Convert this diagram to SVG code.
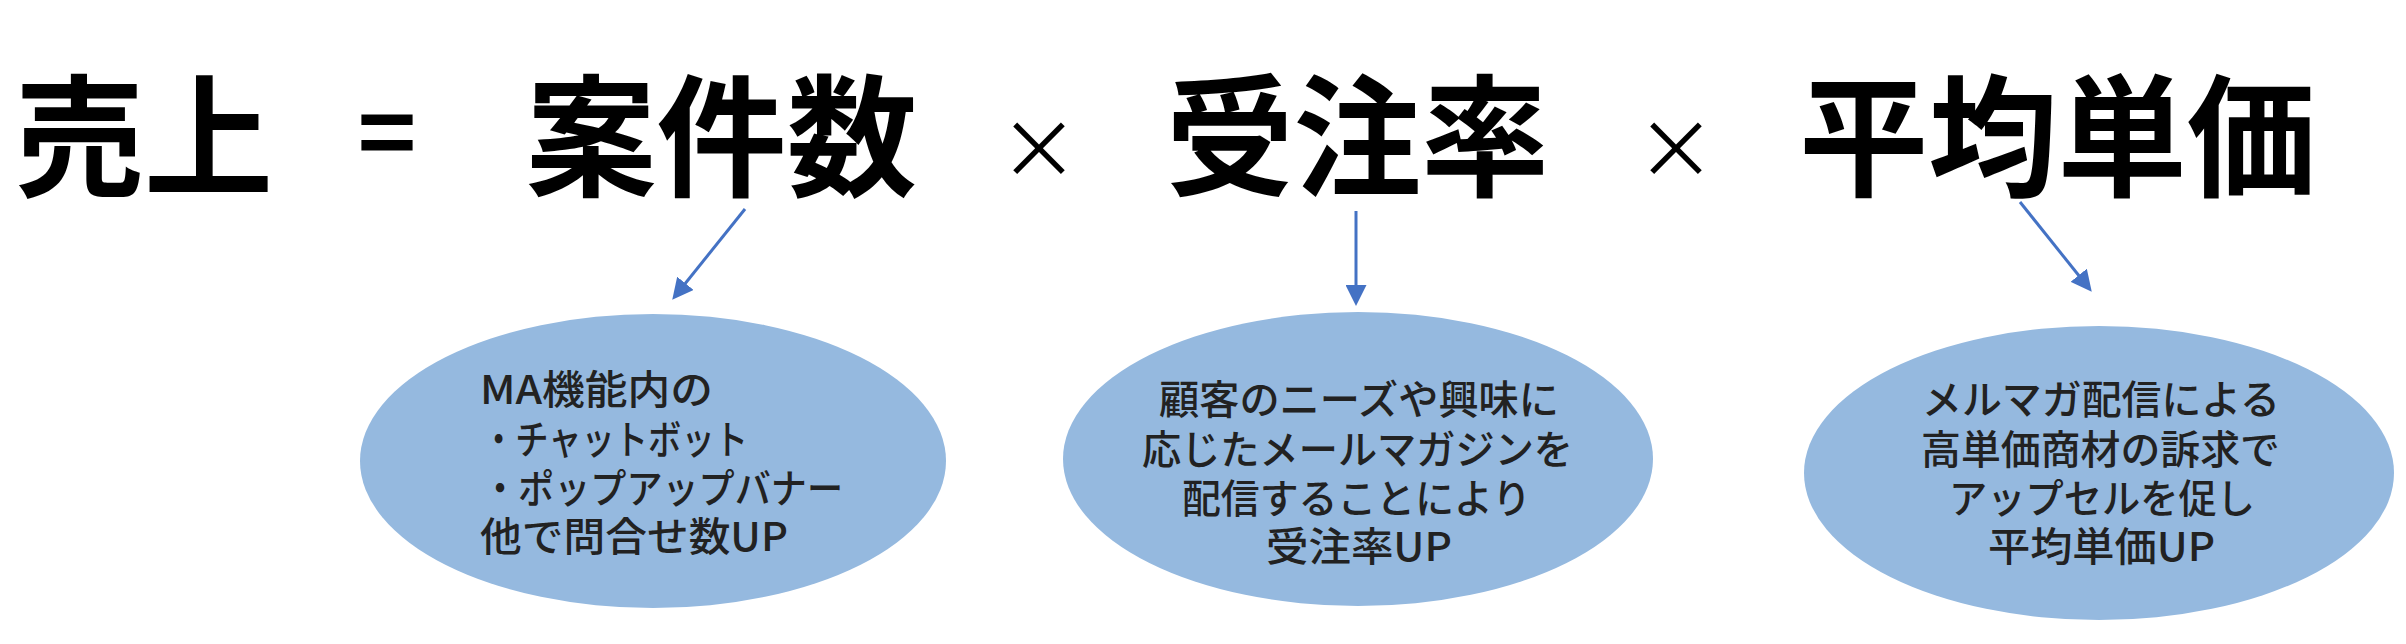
<svg xmlns="http://www.w3.org/2000/svg" width="2406" height="644" viewBox="0 0 2406 644">
<style>
.t{font-family:"Noto Sans CJK JP","Noto Sans",sans-serif;font-weight:700;font-size:132px;fill:#000}
.op{font-family:"Noto Sans CJK JP","Noto Sans",sans-serif;font-size:80px;fill:#000;text-anchor:middle}
.eq{font-family:"Noto Sans CJK JP","Noto Sans",sans-serif;font-weight:700;font-size:100px;fill:#000;text-anchor:middle}
.n{font-family:"Noto Sans CJK JP","Noto Sans",sans-serif;font-weight:500;font-size:40px;fill:#222}
.e{fill:#95B9DF}
.c{stroke:#4472C4;stroke-width:3;fill:none;marker-end:url(#ah)}
</style>
<defs><marker id="ah" markerWidth="7" markerHeight="7" refX="5" refY="3.5" orient="auto" markerUnits="strokeWidth"><path d="M0,0 L7,3.5 L0,7 Z" fill="#4472C4"/></marker></defs>
<rect width="2406" height="644" fill="#fff"/>
<g id="title">
<text class="t" x="15" y="186" textLength="258" lengthAdjust="spacingAndGlyphs">売上</text>
<text class="eq" x="387" y="170">=</text>
<text class="t" x="526" y="186" textLength="391" lengthAdjust="spacingAndGlyphs">案件数</text>
<text class="op" x="1039" y="178">×</text>
<text class="t" x="1166" y="186" textLength="383" lengthAdjust="spacingAndGlyphs">受注率</text>
<text class="op" x="1676" y="178">×</text>
<text class="t" x="1799" y="186" textLength="517" lengthAdjust="spacingAndGlyphs">平均単価</text>
</g>
<g id="connectors">
<line class="c" x1="745" y1="209" x2="676" y2="295"/>
<line class="c" x1="1356" y1="211" x2="1356" y2="300"/>
<line class="c" x1="2020" y1="202" x2="2088" y2="287"/>
</g>
<g id="node1">
<ellipse class="e" cx="653" cy="461" rx="293" ry="147"/>
<text class="n" x="480" y="404" textLength="233" lengthAdjust="spacingAndGlyphs">MA機能内の</text>
<text class="n" x="482" y="454" textLength="266" lengthAdjust="spacingAndGlyphs">・チャットボット</text>
<text class="n" x="482" y="503" textLength="361" lengthAdjust="spacingAndGlyphs">・ポップアップバナー</text>
<text class="n" x="480" y="551" textLength="308" lengthAdjust="spacingAndGlyphs">他で問合せ数UP</text>
</g>
<g id="node2">
<ellipse class="e" cx="1358" cy="459" rx="295" ry="147"/>
<text class="n" x="1159" y="414" textLength="400" lengthAdjust="spacingAndGlyphs">顧客のニーズや興味に</text>
<text class="n" x="1142" y="464" textLength="431" lengthAdjust="spacingAndGlyphs">応じたメールマガジンを</text>
<text class="n" x="1182" y="513" textLength="349" lengthAdjust="spacingAndGlyphs">配信することにより</text>
<text class="n" x="1266" y="561" textLength="186" lengthAdjust="spacingAndGlyphs">受注率UP</text>
</g>
<g id="node3">
<ellipse class="e" cx="2099" cy="473" rx="295" ry="147"/>
<text class="n" x="1922" y="414" textLength="358" lengthAdjust="spacingAndGlyphs">メルマガ配信による</text>
<text class="n" x="1921" y="464" textLength="359" lengthAdjust="spacingAndGlyphs">高単価商材の訴求で</text>
<text class="n" x="1949" y="513" textLength="306" lengthAdjust="spacingAndGlyphs">アップセルを促し</text>
<text class="n" x="1988" y="561" textLength="227" lengthAdjust="spacingAndGlyphs">平均単価UP</text>
</g>
</svg>
